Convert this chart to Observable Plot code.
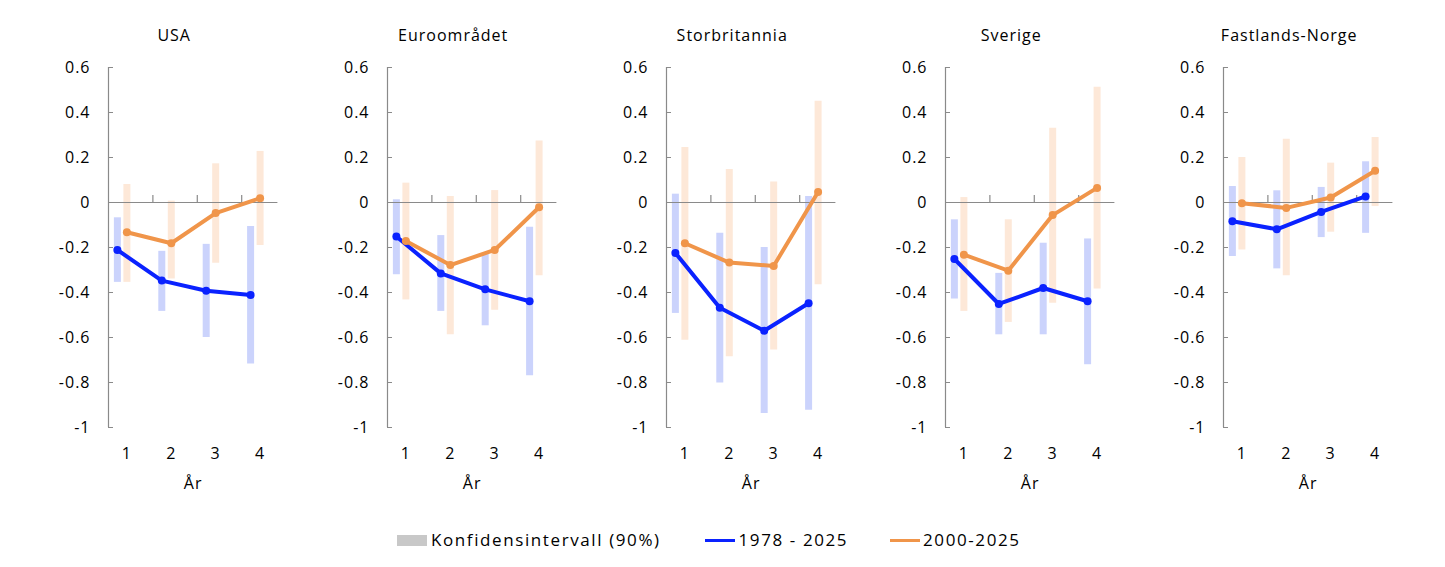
<!DOCTYPE html>
<html><head><meta charset="utf-8">
<script src="https://cdn.jsdelivr.net/npm/d3@7"></script>
<script src="https://cdn.jsdelivr.net/npm/@observablehq/plot@0.6"></script>
<style>
body{margin:0;background:#fff;font-family:'Open Sans',sans-serif;}
#wrap{position:relative;width:1445px;height:567px;overflow:hidden;}
.panel{position:absolute;top:0;width:280px;}
.legtxt{position:absolute;top:529px;font-size:17px;letter-spacing:1.6px;color:#000;line-height:22px;white-space:nowrap;}
.legsw{position:absolute;}
</style></head><body><div id="wrap"></div>
<script>
const countries = ["USA", "Euroområdet", "Storbritannia", "Sverige", "Fastlands-Norge"];
const years = [1, 2, 3, 4];
const yTicks = [0.6, 0.4, 0.2, 0, -0.2, -0.4, -0.6, -0.8, -1];
const seriesNames = ["Konfidensintervall (90%)", "1978 - 2025", "2000-2025"];

// 1978 - 2025: point estimates and 90% interval (rows = countries, cols = years)
const longEst = [
  [-0.211, -0.347, -0.392, -0.411],
  [-0.151, -0.315, -0.386, -0.439],
  [-0.224, -0.468, -0.570, -0.448],
  [-0.251, -0.451, -0.380, -0.439],
  [-0.083, -0.119, -0.042, 0.027]
];
const longLo = [
  [-0.355, -0.484, -0.600, -0.718],
  [-0.321, -0.484, -0.548, -0.770],
  [-0.493, -0.802, -0.938, -0.923],
  [-0.429, -0.588, -0.588, -0.721],
  [-0.240, -0.295, -0.156, -0.137]
];
const longHi = [
  [-0.068, -0.217, -0.186, -0.107],
  [0.012, -0.147, -0.230, -0.110],
  [0.037, -0.137, -0.200, 0.027],
  [-0.077, -0.315, -0.181, -0.162],
  [0.071, 0.052, 0.067, 0.181]
];
// 2000-2025
const shortEst = [
  [-0.132, -0.181, -0.047, 0.019],
  [-0.171, -0.278, -0.211, -0.021],
  [-0.181, -0.267, -0.282, 0.047],
  [-0.232, -0.303, -0.056, 0.065],
  [-0.003, -0.024, 0.022, 0.141]
];
const shortLo = [
  [-0.355, -0.340, -0.270, -0.191],
  [-0.433, -0.588, -0.479, -0.325],
  [-0.612, -0.686, -0.656, -0.365],
  [-0.484, -0.533, -0.448, -0.384],
  [-0.211, -0.325, -0.132, -0.018]
];
const shortHi = [
  [0.080, 0.006, 0.172, 0.227],
  [0.086, 0.027, 0.053, 0.273],
  [0.245, 0.147, 0.091, 0.450],
  [0.022, -0.077, 0.330, 0.512],
  [0.200, 0.281, 0.175, 0.289]
];

const blue = "#0a22ff", orange = "#f0954a";
const blueCI = "#cbd3fc", orangeCI = "#fde8d8";
const axisGray = "#8a8a8a";
const xDomain = [0.586, 4.401];
const yDomain = [-1, 0.6];
const plotH = 360;                       // frame height in px
const tickLen = (yDomain[1] - yDomain[0]) * 7 / plotH;
const blueDx = -9.5;

function panel(i) {
  const rows = years.map((yr, j) => ({
    yr, le: longEst[i][j], ll: longLo[i][j], lh: longHi[i][j],
    se: shortEst[i][j], sl: shortLo[i][j], sh: shortHi[i][j]
  }));
  return Plot.plot({
    width: 280, height: 500,
    marginLeft: 50, marginRight: 60.6, marginTop: 67, marginBottom: 73,
    style: "font-family:'Open Sans',sans-serif;font-size:16px;letter-spacing:1px;color:#000;background:transparent;overflow:visible;",
    x: {domain: xDomain},
    y: {domain: yDomain},
    marks: [
      Plot.ruleX(rows, {x: "yr", y1: "ll", y2: "lh", stroke: blueCI, strokeWidth: 7, dx: blueDx}),
      Plot.ruleX(rows, {x: "yr", y1: "sl", y2: "sh", stroke: orangeCI, strokeWidth: 7}),
      Plot.ruleY([0], {stroke: axisGray, strokeWidth: 1.2}),
      Plot.ruleX(years.slice(1), {x: d => d, y1: 0, y2: tickLen, dx: -18.4, stroke: axisGray, strokeWidth: 1.2}),
      Plot.ruleX([xDomain[0]], {stroke: axisGray, strokeWidth: 1.2}),
      Plot.axisY({ticks: yTicks, tickSize: -5, tickPadding: 23, tickFormat: d => String(d), stroke: axisGray, label: null}),
      Plot.axisX({ticks: years, tickSize: 0, tickPadding: 20, tickFormat: d => String(d), label: null}),
      Plot.line(rows, {x: "yr", y: "le", stroke: blue, strokeWidth: 4, dx: blueDx}),
      Plot.dot(rows, {x: "yr", y: "le", r: 4, fill: blue, dx: blueDx}),
      Plot.line(rows, {x: "yr", y: "se", stroke: orange, strokeWidth: 4}),
      Plot.dot(rows, {x: "yr", y: "se", r: 4, fill: orange}),
      Plot.text([countries[i]], {frameAnchor: "top", lineAnchor: "middle", dy: -31.5, dx: -19, fill: "#000"}),
      Plot.text(["År"], {frameAnchor: "bottom", lineAnchor: "middle", dy: 56, fill: "#000"})
    ]
  });
}

const wrap = document.getElementById("wrap");
countries.forEach((c, i) => {
  const div = document.createElement("div");
  div.className = "panel";
  div.style.left = (58.3 + i * 278.75) + "px";
  div.appendChild(panel(i));
  wrap.appendChild(div);
});

// legend
function addEl(cls, left, top, w, h, bg, text) {
  const d = document.createElement("div");
  d.className = cls;
  d.style.left = left + "px";
  if (top != null) d.style.top = top + "px";
  if (w != null) d.style.width = w + "px";
  if (h != null) d.style.height = h + "px";
  if (bg) d.style.background = bg;
  if (text) d.textContent = text;
  wrap.appendChild(d);
}
addEl("legsw", 397, 534.7, 30, 11.6, "#c8c8c8");
addEl("legtxt", 431, null, null, null, null, seriesNames[0]);
addEl("legsw", 705, 539, 30, 3, blue);
addEl("legtxt", 738.5, null, null, null, null, seriesNames[1]);
addEl("legsw", 890, 539, 30, 3, orange);
addEl("legtxt", 923, null, null, null, null, seriesNames[2]);
</script>
</body></html>
